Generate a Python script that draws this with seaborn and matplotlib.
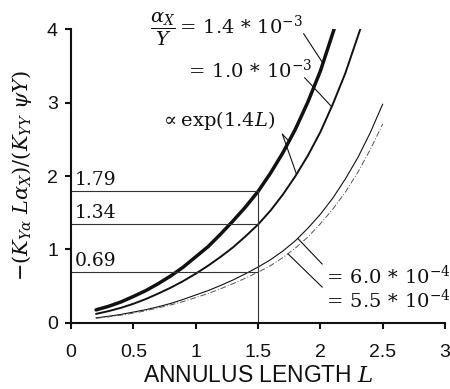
import matplotlib
matplotlib.use("Agg")
import matplotlib.pyplot as plt
import seaborn as sns
import pandas as pd

# Annulus length L for each curve
L_14 = [0.2, 0.3, 0.4, 0.5, 0.6, 0.7, 0.8, 0.9, 1.0, 1.1, 1.2, 1.3, 1.4, 1.5,
        1.6, 1.7, 1.8, 1.9, 2.0, 2.11]
L_10 = [0.2, 0.3, 0.4, 0.5, 0.6, 0.7, 0.8, 0.9, 1.0, 1.1, 1.2, 1.3, 1.4, 1.5,
        1.6, 1.7, 1.8, 1.9, 2.0, 2.1, 2.2, 2.32]
L_low = [0.2, 0.3, 0.4, 0.5, 0.6, 0.7, 0.8, 0.9, 1.0, 1.1, 1.2, 1.3, 1.4, 1.5,
         1.6, 1.7, 1.8, 1.9, 2.0, 2.1, 2.2, 2.3, 2.4, 2.5]

# Normalised moment for alpha_X / Y ratios
y_14e3 = [0.177, 0.225, 0.285, 0.36, 0.44, 0.535, 0.64, 0.76, 0.90, 1.04, 1.21,
          1.39, 1.58, 1.79, 2.04, 2.32, 2.64, 3.01, 3.43, 4.0]
y_10e3 = [0.122, 0.16, 0.205, 0.26, 0.325, 0.40, 0.48, 0.57, 0.67, 0.78, 0.90,
          1.03, 1.18, 1.34, 1.53, 1.75, 2.00, 2.28, 2.60, 2.98, 3.40, 4.0]
y_60e4 = [0.068, 0.09, 0.115, 0.147, 0.18, 0.22, 0.265, 0.32, 0.38, 0.44, 0.51,
          0.585, 0.67, 0.76, 0.86, 0.98, 1.12, 1.29, 1.48, 1.70, 1.96, 2.25,
          2.59, 2.98]
y_55e4 = [0.062, 0.082, 0.105, 0.133, 0.165, 0.205, 0.245, 0.29, 0.345, 0.40,
          0.465, 0.535, 0.61, 0.69, 0.78, 0.89, 1.02, 1.17, 1.35, 1.55, 1.78,
          2.05, 2.36, 2.71]

L_mark = 1.5
marks = [1.79, 1.34, 0.69]
mark_labels = ["1.79", "1.34", "0.69"]

x_ticks = [0, 0.5, 1, 1.5, 2, 2.5, 3]
x_tick_labels = ["0", "0.5", "1", "1.5", "2", "2.5", "3"]
y_ticks = [0, 1, 2, 3, 4]

sns.set_theme(style="ticks")
plt.rcParams["font.family"] = ["Liberation Sans", "DejaVu Sans"]
plt.rcParams["mathtext.fontset"] = "dejavuserif"

fig = plt.figure(figsize=(4.5, 3.89), dpi=100)
ax = fig.add_axes([0.158, 0.170, 0.831, 0.755])

ink = "#111111"
d14 = pd.DataFrame({"L": L_14, "v": y_14e3})
d10 = pd.DataFrame({"L": L_10, "v": y_10e3})
d60 = pd.DataFrame({"L": L_low, "v": y_60e4})
d55 = pd.DataFrame({"L": L_low, "v": y_55e4})

sns.lineplot(data=d14, x="L", y="v", ax=ax, color=ink, lw=2.5)
sns.lineplot(data=d10, x="L", y="v", ax=ax, color=ink, lw=1.4)
sns.lineplot(data=d60, x="L", y="v", ax=ax, color=ink, lw=0.8)
sns.lineplot(data=d55, x="L", y="v", ax=ax, color="#555555", lw=0.7,
             linestyle=(0, (6, 2, 1, 2)))

# Reference lines at L = 1.5
for v, s in zip(marks, mark_labels):
    ax.plot([0, L_mark], [v, v], color="#333333", lw=0.8)
    ax.text(0.03, v + 0.03, s, fontsize=13.5, family="DejaVu Serif",
            ha="left", va="bottom", color=ink)
ax.plot([L_mark, L_mark], [0, marks[0]], color="#333333", lw=0.8)

# Curve labels and leader lines
tk = dict(fontsize=14, color=ink, ha="left", va="center")
ax.text(0.63, 3.99, r"$\dfrac{\alpha_X}{Y} =\, 1.4\, *\, 10^{-3}$", **tk)
ax.text(0.91, 3.44, r"$=\, 1.0\, *\, 10^{-3}$", **tk)
ax.text(0.71, 2.76, r"$\propto \mathrm{exp}(1.4L)$", **tk)
ax.text(2.02, 0.64, r"$=\, 6.0\, *\, 10^{-4}$", **tk)
ax.text(2.02, 0.31, r"$=\, 5.5\, *\, 10^{-4}$", **tk)

lk = dict(color=ink, lw=0.8)
ax.plot([1.865, 2.015], [3.94, 3.55], **lk)
ax.plot([1.873, 2.087], [3.34, 2.95], **lk)
ax.plot([1.695, 1.75], [2.57, 2.47], **lk)
ax.plot([1.695, 1.807], [2.57, 2.03], **lk)
ax.plot([2.015, 1.82], [0.80, 1.147], **lk)
ax.plot([2.015, 1.74], [0.486, 0.94], **lk)

ax.set_xlim(0, 3)
ax.set_ylim(0, 4)
ax.set_xticks(x_ticks)
ax.set_xticklabels(x_tick_labels)
ax.set_yticks(y_ticks)
ax.tick_params(axis="both", direction="out", length=4.5, width=1.5,
               labelsize=14, colors=ink)
ax.tick_params(axis="x", pad=11)
ax.tick_params(axis="y", pad=5)
for side in ("left", "bottom"):
    ax.spines[side].set_linewidth(1.5)
    ax.spines[side].set_color(ink)
sns.despine(ax=ax)

ax.set_xlabel(r"ANNULUS LENGTH $L$", fontsize=16.5, color=ink)
ax.xaxis.label.set_va("center")
ax.xaxis.set_label_coords(0.5, -0.18)
ax.set_ylabel(r"$-(K_{Y\alpha}\ L\alpha_X)/(K_{YY}\ \psi Y)$", fontsize=15,
              color=ink)
ax.yaxis.label.set_va("center")
ax.yaxis.set_label_coords(-0.131, 0.5)

fig.savefig("out.png", dpi=100)
